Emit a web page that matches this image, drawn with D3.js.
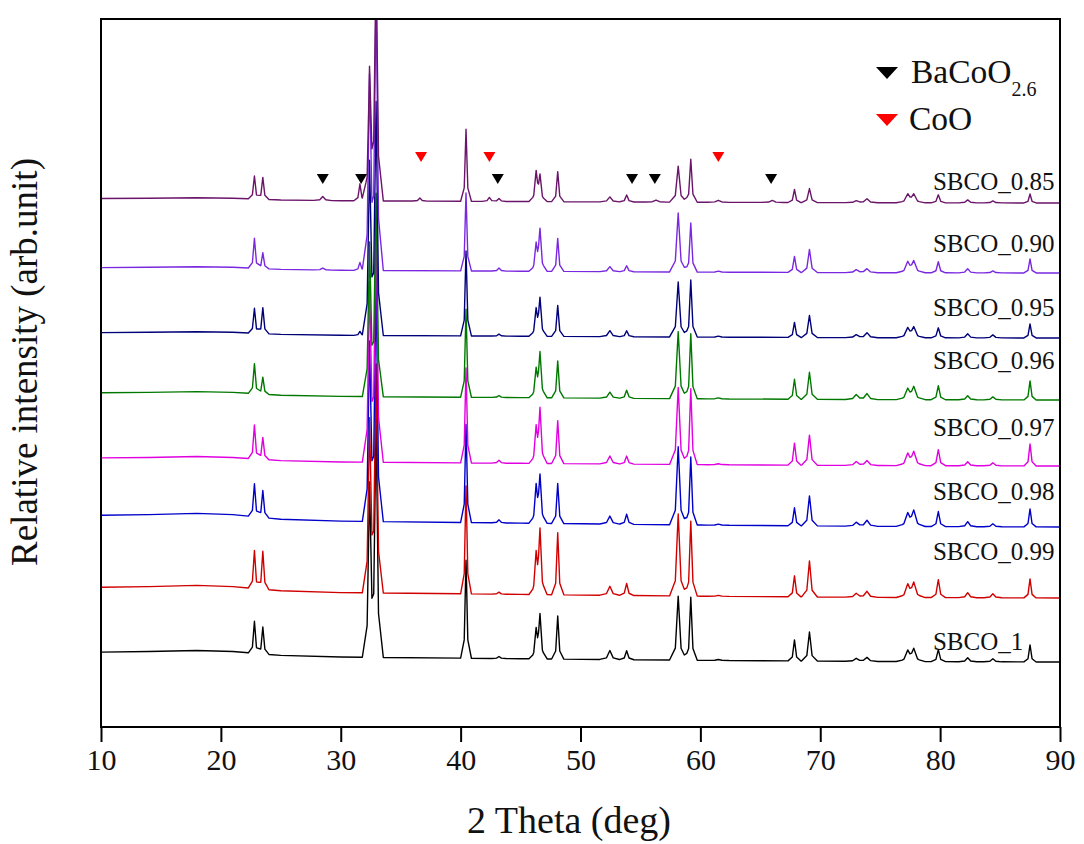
<!DOCTYPE html>
<html>
<head>
<meta charset="utf-8">
<script src="https://cdn.jsdelivr.net/npm/d3@7"></script>
<style>
  body { margin: 0; background: #fff; }
  text { font-family: "Liberation Serif", "Times New Roman", serif; fill: #111; }
</style>
</head>
<body>
<div id="chart"></div>
<script>
// samples, bottom trace first
var samples = ["SBCO_1", "SBCO_0.99", "SBCO_0.98", "SBCO_0.97", "SBCO_0.96", "SBCO_0.95", "SBCO_0.90", "SBCO_0.85"];
var colors  = ["#000000", "#d00000", "#0000c8", "#e000e0", "#007800", "#000078", "#7a28e0", "#6a146a"];
// vertical offset of each trace (arb. unit) and where its label sits
var offsets = [65, 129, 200, 261, 327, 389, 454, 524];
var labelY  = [77, 167, 227, 291, 358, 411, 475, 537];
// low-angle background (amorphous hump), shape and size per trace
var bgShape = [[10, 0.9], [14, 0.95], [18, 1.05], [21, 0.95], [25, 0.6], [30, 0.45], [45, 0.3], [60, 0.15], [75, 0.05], [90, 0]];
var bgAmp   = [11, 12, 13, 9, 8, 6, 6, 5];

// reflection positions (2 theta) and half widths (deg)
var peakPos   = [22.8, 23.5, 28.5, 31.6, 32.4, 32.95, 36.6, 40.45, 42.4, 43.2, 46.3, 46.62, 48.1, 52.45, 53.85, 54.3, 56.3, 58.15, 59.2, 61.5, 66.0, 67.85, 69.1, 73.0, 73.9, 77.3, 77.8, 79.85, 82.3, 84.4, 87.5];
var peakWidth = [0.17, 0.17, 0.25, 0.17, 0.2, 0.2, 0.2, 0.15, 0.2, 0.2, 0.2, 0.2, 0.17, 0.28, 0.2, 0.2, 0.3, 0.24, 0.18, 0.3, 0.3, 0.18, 0.22, 0.3, 0.3, 0.32, 0.32, 0.2, 0.25, 0.25, 0.17];

// peak heights read for each sample (same order as peakPos)
var h_1    = [32, 27, 0, 0, 170, 235, 0, 98, 0, 2, 26, 42, 43, 9, 9, 0, 0, 64, 63, 1, 0, 21, 29, 3, 4, 10, 12, 12, 4, 3, 17];
var h_0_99 = [38, 38, 0, 0, 170, 225, 0, 108, 0, 2, 36, 62, 62, 9, 12, 0, 0, 82, 75, 1, 0, 21, 36, 4, 6, 12, 14, 18, 5, 4, 19];
var h_0_98 = [33, 27, 0, 0, 175, 240, 0, 98, 0, 3, 34, 45, 40, 8, 10, 0, 0, 78, 68, 1, 0, 18, 30, 4, 6, 12, 15, 15, 5, 3, 18];
var h_0_97 = [34, 22, 0, 0, 175, 240, 0, 95, 0, 3, 32, 52, 43, 8, 8, 0, 0, 77, 76, 1, 0, 22, 30, 4, 5, 11, 13, 16, 4, 3, 22];
var h_0_96 = [30, 17, 0, 0, 150, 200, 0, 88, 0, 2, 25, 43, 37, 6, 8, 0, 0, 67, 65, 1, 0, 20, 27, 5, 6, 10, 12, 14, 4, 3, 19];
var h_0_95 = [25, 26, 0, 4, 170, 230, 0, 85, 0, 2, 24, 36, 31, 6, 6, 0, 0, 55, 57, 1, 0, 15, 22, 3, 5, 9, 10, 10, 4, 3, 14];
var h_0_90 = [30, 16, 2, 8, 190, 280, 0, 78, 0, 3, 24, 40, 33, 5, 6, 0, 0, 59, 49, 1, 0, 16, 23, 3, 4, 10, 11, 11, 4, 2, 14];
var h_0_85 = [23, 22, 4, 17, 129, 240, 3, 72, 4, 3, 28, 24, 30, 5, 7, 0, 2, 36, 43, 2, 2, 13, 14, 2, 4, 8, 8, 8, 3, 2, 9];
var heights = [h_1, h_0_99, h_0_98, h_0_97, h_0_96, h_0_95, h_0_90, h_0_85];

// phase markers
var baCoOMarks = [28.5, 31.7, 43.1, 54.3, 56.2, 65.9];
var coOMarks   = [36.7, 42.4, 61.5];
var baCoOMarkY = 553, coOMarkY = 575;

var xTicks = [10, 20, 30, 40, 50, 60, 70, 80, 90];

var width = 1084, height = 844;
var margin = {top: 19, right: 24, bottom: 117, left: 101};
var serif = "'Liberation Serif', 'Times New Roman', serif";

var svg = d3.select("#chart").append("svg")
    .attr("width", width)
    .attr("height", height);

var x = d3.scaleLinear().domain([10, 90]).range([margin.left, width - margin.right]);
var y = d3.scaleLinear().domain([0, 708]).range([height - margin.bottom, margin.top]);

svg.append("clipPath").attr("id", "plot")
  .append("rect")
    .attr("x", x(10)).attr("y", y(708))
    .attr("width", x(90) - x(10)).attr("height", y(0) - y(708));

var bg = d3.scaleLinear()
    .domain(bgShape.map(function(d) { return d[0]; }))
    .range(bgShape.map(function(d) { return d[1]; }));

function tri(t, c, w) {
  return Math.max(0, 1 - Math.abs(t - c) / w);
}

// piecewise-linear trace: evaluated only at its own break points
function trace(hs, amp, off) {
  var xs = [10, 90];
  bgShape.forEach(function(d) { xs.push(d[0]); });
  peakPos.forEach(function(p, i) {
    if (hs[i] > 0) {
      var w = peakWidth[i];
      xs.push(p - 3 * w, p - w, p, p + w, p + 3 * w);
    }
  });
  xs = Array.from(new Set(xs.map(function(v) { return +v.toFixed(4); })))
    .filter(function(v) { return v >= 10 && v <= 90; })
    .sort(function(a, b) { return a - b; });
  return xs.map(function(t) {
    var v = off + bg(t) * amp;
    peakPos.forEach(function(p, i) {
      var w = peakWidth[i];
      v += hs[i] * (0.72 * tri(t, p, w) + 0.28 * tri(t, p, 3 * w));
    });
    return [t, v];
  });
}

var line = d3.line()
    .x(function(d) { return x(d[0]); })
    .y(function(d) { return y(d[1]); });

var traces = svg.append("g").attr("clip-path", "url(#plot)");

samples.forEach(function(name, i) {
  traces.append("path")
      .attr("d", line(trace(heights[i], bgAmp[i], offsets[i])))
      .attr("fill", "none")
      .attr("stroke", colors[i])
      .attr("stroke-width", 1.4)
      .attr("stroke-linejoin", "round");
});

// sample labels
svg.selectAll("text.label")
    .data(samples)
  .enter().append("text")
    .attr("class", "label")
    .attr("x", x(79.4))
    .attr("y", function(d, i) { return y(labelY[i]); })
    .style("font-size", "25px")
    .text(function(d) { return d; });

// downward triangle
function down(cx, top, w, h) {
  return "M" + (cx - w / 2) + "," + top + "L" + (cx + w / 2) + "," + top + "L" + cx + "," + (top + h) + "Z";
}

svg.selectAll("path.mb")
    .data(baCoOMarks)
  .enter().append("path")
    .attr("class", "mb")
    .attr("d", function(d) { return down(x(d), y(baCoOMarkY), 12, 10); })
    .attr("fill", "#000");

svg.selectAll("path.mr")
    .data(coOMarks)
  .enter().append("path")
    .attr("class", "mr")
    .attr("d", function(d) { return down(x(d), y(coOMarkY), 12, 10); })
    .attr("fill", "#ff0000");

// legend
var legend = svg.append("g");
legend.append("path").attr("d", down(887, 67, 22, 12)).attr("fill", "#000");
legend.append("path").attr("d", down(887, 114, 22, 12)).attr("fill", "#ff0000");
var t1 = legend.append("text").attr("x", 911).attr("y", 83).style("font-size", "33.5px");
t1.append("tspan").text("BaCoO");
t1.append("tspan").attr("dy", 13).style("font-size", "20px").text("2.6");
legend.append("text").attr("x", 909).attr("y", 130).style("font-size", "33.5px").text("CoO");

// axes
var xAxis = svg.append("g")
    .attr("transform", "translate(0," + y(0) + ")")
    .call(d3.axisBottom(x).tickValues(xTicks).tickSize(15).tickPadding(7))
    .attr("font-family", serif)
    .attr("font-size", 30);
xAxis.select(".domain").remove();
xAxis.selectAll(".tick line").attr("stroke", "#000").attr("stroke-width", 2);
xAxis.selectAll(".tick text")
    .attr("fill", "#111")
    .style("font-family", serif)
    .style("font-size", "30px");

svg.append("rect")
    .attr("x", x(10)).attr("y", y(708))
    .attr("width", x(90) - x(10)).attr("height", y(0) - y(708))
    .attr("fill", "none")
    .attr("stroke", "#000")
    .attr("stroke-width", 2);

svg.append("text")
    .attr("x", 569).attr("y", 833)
    .attr("text-anchor", "middle")
    .style("font-size", "38px")
    .text("2 Theta (deg)");

svg.append("text")
    .attr("transform", "translate(37,362) rotate(-90)")
    .attr("text-anchor", "middle")
    .style("font-size", "37px")
    .text("Relative intensity (arb.unit)");
</script>
</body>
</html>
